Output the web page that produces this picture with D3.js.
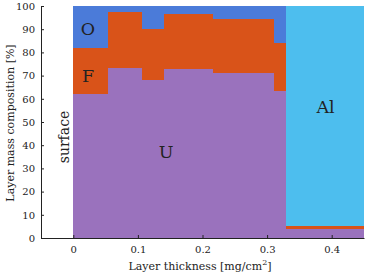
<!DOCTYPE html>
<html><head><meta charset="utf-8">
<script src="https://cdn.jsdelivr.net/npm/d3@7"></script>
<style>body{margin:0;background:#fff}svg{display:block}text{font-family:"DejaVu Serif",serif;fill:#222}</style>
</head><body>
<script>
// Layer boundaries [mg/cm^2]
const layerStart = [0, 0.054, 0.106, 0.140, 0.216, 0.311, 0.329];
const layerEnd   = [0.054, 0.106, 0.140, 0.216, 0.311, 0.329, 0.45];
// Mass composition per layer [%]
const U  = [62, 73.4, 67.9, 72.8, 71.0, 63.4, 3.8];
const F  = [20, 23.9, 22.1, 23.8, 23.2, 20.5, 1.4];
const O  = [18, 2.7, 10.0, 3.4, 5.8, 16.1, 0];
const Al = [0, 0, 0, 0, 0, 0, 94.8];
const elements = ["U", "F", "O", "Al"];
const colors = {U: "#9a72bd", F: "#d95319", O: "#4b7bd9", Al: "#4dbeee"};
const xTicks = [0, 0.1, 0.2, 0.3, 0.4];
const yTicks = [0, 10, 20, 30, 40, 50, 60, 70, 80, 90, 100];

const W = 374, H = 274;
const svg = d3.select("body").append("svg").attr("width", W).attr("height", H);
const x = d3.scaleLinear().domain([-0.05, 0.45]).range([41, 364]);
const y = d3.scaleLinear().domain([0, 100]).range([238, 6]);

const rows = layerStart.map((s, i) => ({s, e: layerEnd[i], U: U[i], F: F[i], O: O[i], Al: Al[i]}));
const stacked = d3.stack().keys(elements)(rows);
stacked.forEach(layer => {
  svg.append("g").selectAll("rect").data(layer).join("rect")
    .attr("x", d => x(d.data.s))
    .attr("width", d => x(d.data.e) - x(d.data.s) + 0.3)
    .attr("y", d => y(d[1]))
    .attr("height", d => Math.max(0, y(d[0]) - y(d[1])))
    .attr("fill", colors[layer.key])
    .attr("shape-rendering", "crispEdges");
});

// axes
const xa = svg.append("g").attr("transform", `translate(0,${y(0)})`)
  .call(d3.axisBottom(x).tickValues(xTicks).tickSizeInner(-3).tickSizeOuter(0).tickPadding(8).tickFormat(d => d === 0 ? "0" : d3.format(".1f")(d)));
const ya = svg.append("g").attr("transform", `translate(${x(-0.05)},0)`)
  .call(d3.axisLeft(y).tickValues(yTicks).tickSizeInner(-3).tickSizeOuter(0).tickPadding(6));
[xa, ya].forEach(a => {
  a.selectAll("text").style("font-family", "DejaVu Serif, serif").style("font-size", "10px").attr("fill", "#222");
  a.selectAll("line,path").attr("stroke", "#222");
});

// labels
const lab = (t, px, py, size, rot) => {
  const el = svg.append("text").attr("text-anchor", "middle").attr("font-size", size).text(t);
  if (rot) el.attr("transform", `translate(${px},${py}) rotate(-90)`);
  else el.attr("x", px).attr("y", py);
  return el;
};
lab("O", 88, 35, "17.5px");
lab("F", 88, 82, "17.5px");
lab("U", 166, 158, "17.5px");
lab("Al", 325.5, 113, "17.5px");
lab("surface", 69, 137, "14px", true);
const xl = svg.append("text").attr("text-anchor", "middle").attr("x", 200).attr("y", 270).attr("font-size", "11px");
xl.append("tspan").text("Layer thickness [mg/cm");
xl.append("tspan").attr("dy", -5).attr("font-size", "8px").text("2");
xl.append("tspan").attr("dy", 5).text("]");
lab("Layer mass composition [%]", 14, 123, "11px", true);
</script>
</body></html>
